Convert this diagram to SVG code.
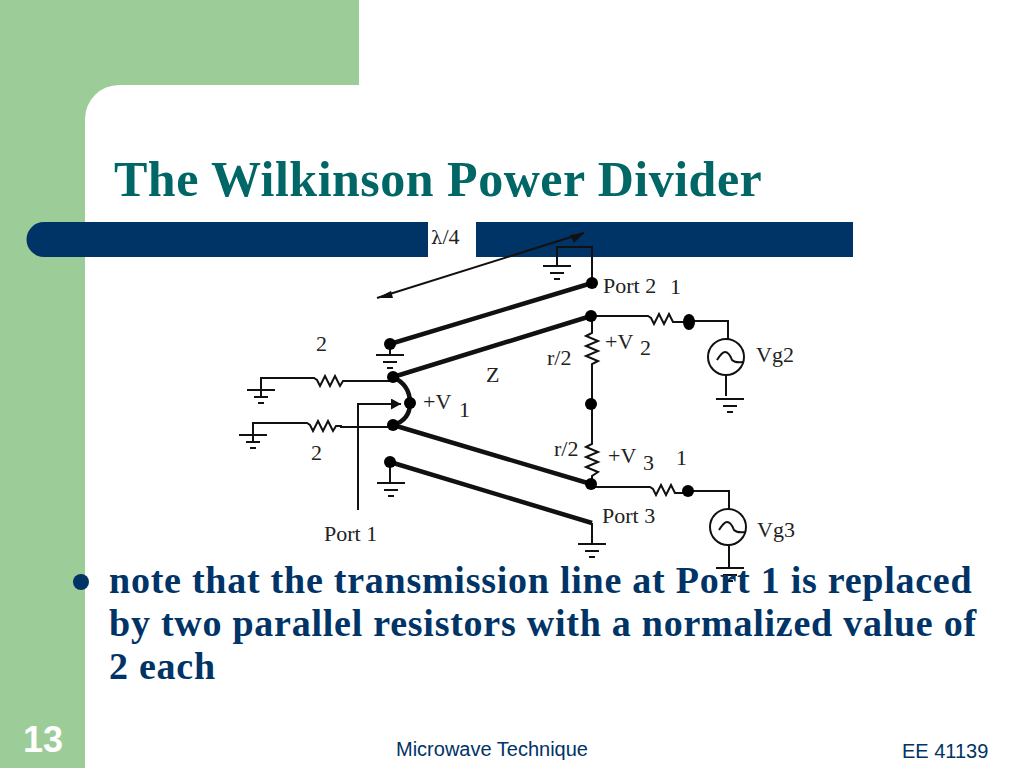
<svg xmlns="http://www.w3.org/2000/svg" width="1024" height="768" viewBox="0 0 1024 768">
<style>
.w{fill:none;stroke:#111;stroke-width:2}
.t{fill:none;stroke:#111;stroke-width:4.500}
.d{fill:#000}
.l{font-family:"Liberation Serif",serif;font-size:22px;fill:#222}
.b{font-family:"Liberation Serif",serif;font-weight:bold;font-size:38px;letter-spacing:.75px;fill:#003366}
.s{font-family:"Liberation Sans",sans-serif;fill:#003366}
</style>
<defs>
<marker id="a" markerWidth="12" markerHeight="12" refX="10" refY="5.500" orient="auto" markerUnits="userSpaceOnUse"><path d="M0,0L10,5.500L0,11Z" fill="#111"/></marker>
<g id="gnd"><path class="w" d="M-14,0H14M-7,7H7M-3,13H3"/></g>
</defs>
<rect width="1024" height="768" fill="#fff"/>
<g id="background">
<path fill="#9ccc98" d="M0,0H359V85H119A34,34 0 0 0 85,119V768H0Z"/>
<path fill="#003366" d="M44,222H428V257H44A17.500,17.500 0 0 1 44,222ZM476,222H853V257H476Z"/>
</g>
<text id="title" x="114" y="196" font-family="Liberation Serif, serif" font-weight="bold" font-size="50" letter-spacing=".5" fill="#006666">The Wilkinson Power Divider</text>
<g id="connectors">
<path class="t" d="M390,344L592,283M393,377L591,316M393,425L591,484M390,462L592,523"/>
<path class="t" d="M393,377Q410,385 410,403Q410,420 393,425"/>
<path class="w" d="M377,298L584,233"/>
<path class="w" d="M592,283V247H557V266M390,344V355M261,398V378H314l3,2l3,6l5,-10l5,10l5,-10l5,10l3,-5h5V381H393M253,443V423H307l3,2l3,6l5,-10l5,10l5,-10l5,10l3,-5h5V427H393M390,462V483M592,523V544"/>
<path class="w" d="M358,510V404H401" marker-end="url(#a)"/>
<path class="w" d="M591,316H648l3,2l3,6l5,-10l5,10l5,-10l4,8h15V321H728V339M726,375V396"/>
<path class="w" d="M592,316V333l-6,3l12,5l-12,5l12,5l-12,5l12,5l-6,3V404V444l-6,3l12,5l-12,5l12,5l-12,5l12,5l-6,4V484"/>
<path class="w" d="M591,487H650l3,2l3,6l5,-10l5,10l5,-10l4,8h14V491H729V509M729,545V568"/>
<path d="M584,233L570,235L574,243Z" fill="#111"/>
<path d="M377,298L391,291L393,298Z" fill="#111"/>
</g>
<g id="grounds">
<use href="#gnd" x="557" y="266"/>
<use href="#gnd" x="390" y="355"/>
<use href="#gnd" x="261" y="390"/>
<use href="#gnd" x="253" y="435"/>
<use href="#gnd" x="391" y="483"/>
<use href="#gnd" x="592" y="544"/>
<use href="#gnd" x="730" y="399"/>
<use href="#gnd" x="730" y="568"/>
</g>
<g id="nodes">
<circle class="d" cx="390" cy="344" r="6"/>
<circle class="d" cx="393" cy="377" r="6"/>
<circle class="d" cx="410" cy="403" r="6"/>
<circle class="d" cx="393" cy="425" r="6"/>
<circle class="d" cx="390" cy="462" r="6"/>
<circle class="d" cx="592" cy="283" r="6"/>
<circle class="d" cx="591" cy="316" r="6"/>
<circle class="d" cx="591" cy="404" r="6"/>
<circle class="d" cx="591" cy="484" r="6"/>
<ellipse class="d" cx="689" cy="322" rx="6" ry="8"/>
<circle class="d" cx="688" cy="491" r="6"/>
</g>
<g id="Vg2"><circle cx="726" cy="357" r="18" fill="#fff" stroke="#111" stroke-width="2"/><path class="w" d="M717,360Q722,352 725,352Q729,352 732,360Q735,363 743,362"/></g>
<g id="Vg3"><circle cx="728" cy="527" r="18" fill="#fff" stroke="#111" stroke-width="2"/><path class="w" d="M719,530Q724,522 727,522Q731,522 734,530Q737,533 745,532"/></g>
<g id="labels">
<text class="l" x="431" y="244"><tspan font-family="DejaVu Serif, serif" font-size="18">λ</tspan>/4</text>
<text class="l" x="603" y="293">Port 2</text><text class="l" x="670" y="294">1</text>
<text class="l" x="605" y="349">+V</text><text class="l" x="640" y="355">2</text>
<text class="l" x="547" y="365">r/2</text><text class="l" x="756" y="362">Vg2</text>
<text class="l" x="316" y="351">2</text><text class="l" x="486" y="382">Z</text>
<text class="l" x="423" y="409">+V</text><text class="l" x="459" y="417">1</text>
<text class="l" x="311" y="460">2</text><text class="l" x="554" y="456">r/2</text>
<text class="l" x="608" y="463">+V</text><text class="l" x="643" y="470">3</text><text class="l" x="676" y="465">1</text>
<text class="l" x="602" y="523">Port 3</text><text class="l" x="757" y="537">Vg3</text>
<text class="l" x="324" y="541">Port 1</text>
</g>
<g id="body">
<circle cx="81" cy="582" r="8" fill="#003366"/>
<text class="b" x="109" y="593">note that the transmission line at Port 1 is replaced</text>
<text class="b" x="109" y="636">by two parallel resistors with a normalized value of</text>
<text class="b" x="109" y="679">2 each</text>
</g>
<g id="footer">
<text x="23" y="752" font-family="Liberation Sans, sans-serif" font-weight="bold" font-size="36" fill="#fff">13</text>
<text class="s" x="396" y="756" font-size="20">Microwave Technique</text>
<text class="s" x="902" y="758" font-size="20">EE 41139</text>
</g>
</svg>
